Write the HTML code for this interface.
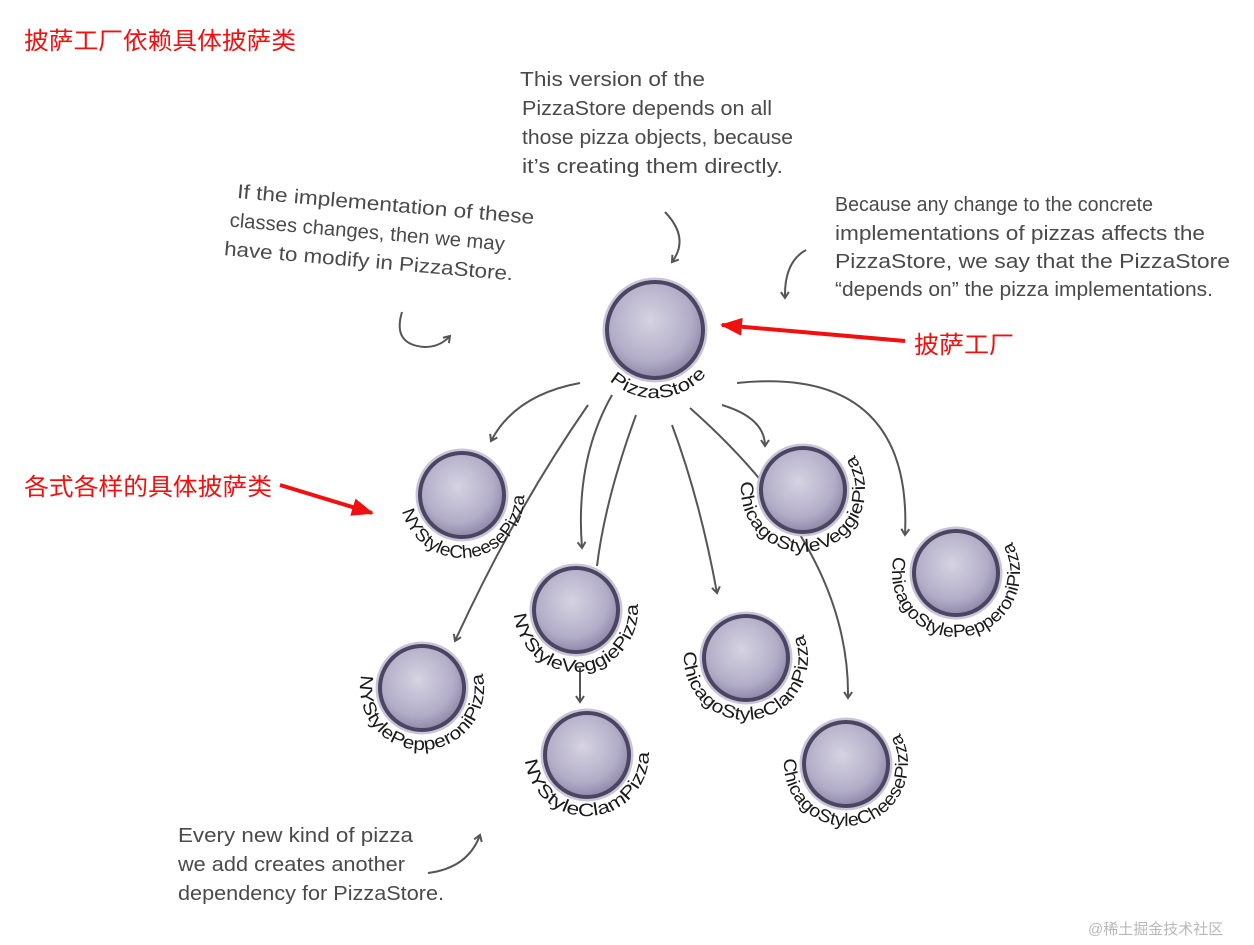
<!DOCTYPE html>
<html><head><meta charset="utf-8"><style>
html,body{margin:0;padding:0;background:#fff;}
svg{display:block;}
.n{font-family:"Liberation Sans",sans-serif;fill:#4a4a4a;font-size:20px;}
.l{font-family:"Liberation Sans",sans-serif;fill:#1a1a1a;font-size:18px;}
.r{font-family:"Liberation Sans","Noto Sans CJK SC",sans-serif;fill:#f01010;font-size:24px;}
.a{fill:none;stroke:#555;stroke-width:2;marker-end:url(#ah);}
</style></head><body>
<svg width="1254" height="945" viewBox="0 0 1254 945" xmlns="http://www.w3.org/2000/svg">
<defs>
<radialGradient id="g" cx="45%" cy="40%" r="60%">
<stop offset="0" stop-color="#d6d3e2"/><stop offset="0.7" stop-color="#b3aec8"/><stop offset="1" stop-color="#8f89a8"/>
</radialGradient>
<marker id="ah" markerWidth="10" markerHeight="10" refX="7" refY="5" orient="auto" markerUnits="userSpaceOnUse">
<path d="M1,1 L7,5 L1,9" fill="none" stroke="#555" stroke-width="2"/></marker>
<marker id="rh" markerWidth="22" markerHeight="18" refX="20" refY="9" orient="auto" markerUnits="userSpaceOnUse">
<path d="M0,0 L22,9 L0,18 Z" fill="#f01010"/></marker>
<path id="p1" d="M609.5,380.5 A68,68 0 0 0 711.4,368"/>
<path id="p2" d="M402.1,511.1 A62,62 0 0 0 523.1,484.2"/>
<path id="p3" d="M741.6,481.4 A62,62 0 1 0 850.5,450.1"/>
<path id="p4" d="M894.2,556.4 A64,64 0 1 0 1008.4,536.3"/>
<path id="p5" d="M514.1,614.3 A62,62 0 1 0 636.6,597.1"/>
<path id="p6" d="M684.3,651.5 A62,62 0 1 0 800.7,628.9"/>
<path id="p7" d="M361.4,675.1 A62,62 0 1 0 480.3,666.8"/>
<path id="p8" d="M525.2,760.4 A62,62 0 1 0 648.4,746.4"/>
<path id="p9" d="M784.2,758.6 A62,62 0 1 0 895.5,726.7"/>
</defs>

<text class="r" x="24" y="49" textLength="272" lengthAdjust="spacingAndGlyphs">披萨工厂依赖具体披萨类</text>
<text class="r" x="914" y="353" textLength="100" lengthAdjust="spacingAndGlyphs">披萨工厂</text>
<text class="r" x="24" y="495" textLength="248" lengthAdjust="spacingAndGlyphs">各式各样的具体披萨类</text>
<line x1="905" y1="341" x2="722" y2="325" stroke="#f01010" stroke-width="4" marker-end="url(#rh)"/>
<line x1="280" y1="485" x2="372" y2="513" stroke="#f01010" stroke-width="4" marker-end="url(#rh)"/>

<text class="n" x="520" y="86" textLength="185" lengthAdjust="spacingAndGlyphs">This version of the</text>
<text class="n" x="522" y="115" textLength="250" lengthAdjust="spacingAndGlyphs">PizzaStore depends on all</text>
<text class="n" x="522" y="144" textLength="271" lengthAdjust="spacingAndGlyphs">those pizza objects, because</text>
<text class="n" x="522" y="173" textLength="261" lengthAdjust="spacingAndGlyphs">it’s creating them directly.</text>

<g transform="rotate(5 237 195)">
<text class="n" x="237" y="198" textLength="298" lengthAdjust="spacingAndGlyphs">If the implementation of these</text>
<text class="n" x="232" y="227" textLength="276" lengthAdjust="spacingAndGlyphs">classes changes, then we may</text>
<text class="n" x="229" y="256" textLength="290" lengthAdjust="spacingAndGlyphs">have to modify in PizzaStore.</text>
</g>

<text class="n" x="835" y="211" textLength="318" lengthAdjust="spacingAndGlyphs">Because any change to the concrete</text>
<text class="n" x="835" y="240" textLength="370" lengthAdjust="spacingAndGlyphs">implementations of pizzas affects the</text>
<text class="n" x="835" y="268" textLength="395" lengthAdjust="spacingAndGlyphs">PizzaStore, we say that the PizzaStore</text>
<text class="n" x="835" y="296" textLength="378" lengthAdjust="spacingAndGlyphs">“depends on” the pizza implementations.</text>

<text class="n" x="178" y="842" textLength="235" lengthAdjust="spacingAndGlyphs">Every new kind of pizza</text>
<text class="n" x="178" y="871" textLength="227" lengthAdjust="spacingAndGlyphs">we add creates another</text>
<text class="n" x="178" y="900" textLength="266" lengthAdjust="spacingAndGlyphs">dependency for PizzaStore.</text>

<text x="1088" y="934" font-family="Liberation Sans,Noto Sans CJK SC,sans-serif" font-size="15" fill="#b8b8b8">@稀土掘金技术社区</text>

<path class="a" d="M665,212 Q690,238 672,262"/>
<path class="a" d="M806,250 Q784,262 785,298"/>
<path class="a" d="M402,312 Q392,345 425,347 Q440,347 450,336"/>
<path class="a" d="M428,873 Q468,868 480,835"/>

<path class="a" d="M580,383 Q515,395 491,441"/>
<path class="a" d="M588,405 Q515,510 455,641"/>
<path class="a" d="M612,395 Q575,460 582,548"/>
<path d="M636,415 Q605,500 597,566" fill="none" stroke="#555" stroke-width="2"/>
<path class="a" d="M580,668 L580,702"/>
<path class="a" d="M672,425 Q700,500 717,593"/>
<path class="a" d="M690,408 C760,470 850,570 848,698"/>
<path class="a" d="M722,405 Q765,418 765,446"/>
<path class="a" d="M737,383 C860,370 910,430 905,535"/>

<g stroke="#c9c5d9" stroke-width="9" fill="none">
<circle cx="655" cy="330" r="48"/><circle cx="462" cy="495" r="42"/><circle cx="803" cy="490" r="42"/>
<circle cx="956" cy="573" r="42"/><circle cx="576" cy="610" r="42"/><circle cx="746" cy="658" r="42"/>
<circle cx="422" cy="688" r="42"/><circle cx="587" cy="755" r="42"/><circle cx="846" cy="764" r="42"/>
</g>
<g stroke="#4b4562" stroke-width="4" fill="url(#g)">
<circle cx="655" cy="330" r="48"/><circle cx="462" cy="495" r="42"/><circle cx="803" cy="490" r="42"/>
<circle cx="956" cy="573" r="42"/><circle cx="576" cy="610" r="42"/><circle cx="746" cy="658" r="42"/>
<circle cx="422" cy="688" r="42"/><circle cx="587" cy="755" r="42"/><circle cx="846" cy="764" r="42"/>
</g>

<text class="l" font-size="20"><textPath href="#p1" textLength="108" lengthAdjust="spacingAndGlyphs">PizzaStore</textPath></text>
<text class="l"><textPath href="#p2" textLength="180" lengthAdjust="spacingAndGlyphs">NYStyleCheesePizza</textPath></text>
<text class="l"><textPath href="#p3" textLength="240" lengthAdjust="spacingAndGlyphs">ChicagoStyleVeggiePizza</textPath></text>
<text class="l"><textPath href="#p4" textLength="250" lengthAdjust="spacingAndGlyphs">ChicagoStylePepperoniPizza</textPath></text>
<text class="l"><textPath href="#p5" textLength="196" lengthAdjust="spacingAndGlyphs">NYStyleVeggiePizza</textPath></text>
<text class="l"><textPath href="#p6" textLength="225" lengthAdjust="spacingAndGlyphs">ChicagoStyleClamPizza</textPath></text>
<text class="l"><textPath href="#p7" textLength="222" lengthAdjust="spacingAndGlyphs">NYStylePepperoniPizza</textPath></text>
<text class="l"><textPath href="#p8" textLength="190" lengthAdjust="spacingAndGlyphs">NYStyleClamPizza</textPath></text>
<text class="l"><textPath href="#p9" textLength="232" lengthAdjust="spacingAndGlyphs">ChicagoStyleCheesePizza</textPath></text>
</svg>
</body></html>
